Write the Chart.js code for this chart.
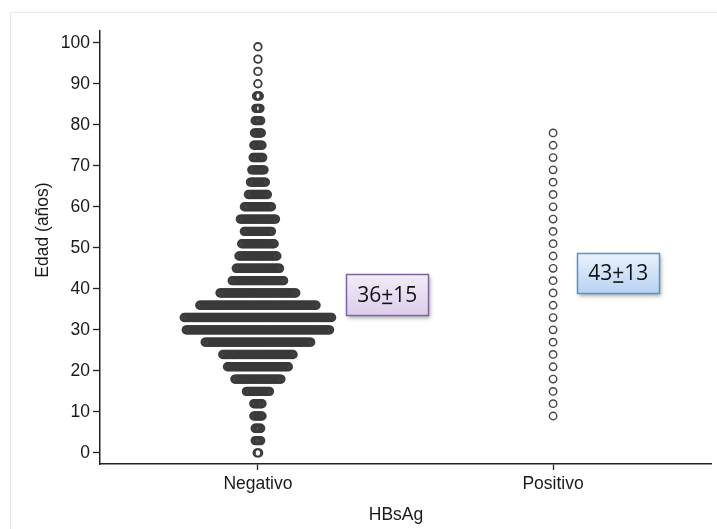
<!DOCTYPE html>
<html>
<head>
<meta charset="utf-8">
<script src="https://cdn.jsdelivr.net/npm/chart.js@4"></script>
<style>
  html, body { margin: 0; padding: 0; background: #fff; }
  #wrap { width: 717px; height: 529px; position: relative; }
</style>
</head>
<body>
<div id="wrap"><canvas id="dotChart" width="717" height="529"></canvas></div>
<script>
    // age bins (years) used by the dot plot
    const ageBins = [0, 3, 6, 9, 12, 15, 18, 21, 24, 27, 30, 33, 36, 39, 42, 45, 48, 51,
                     54, 57, 60, 63, 66, 69, 72, 75, 78, 81, 84, 87, 90, 93, 96, 99];
    // number of subjects per bin, HBsAg negative
    const negCounts = [2, 5, 5, 7, 7, 18, 35, 46, 53, 79, 107, 110, 87, 57, 39, 33, 29, 25,
                       21, 27, 21, 15, 12, 10, 8, 7, 6, 5, 4, 3, 1, 1, 1, 1];
    // number of subjects per bin, HBsAg positive
    const posCounts = [0, 0, 0, 1, 1, 1, 1, 1, 1, 1, 1, 1, 1, 1, 1, 1, 1, 1,
                       1, 1, 1, 1, 1, 1, 1, 1, 1, 0, 0, 0, 0, 0, 0, 0];
    const groups = ['Negativo', 'Positivo'];
    const yTicks = [0, 10, 20, 30, 40, 50, 60, 70, 80, 90, 100];
    const meanLabels = [['36', '+', '15'], ['43', '+', '13']];

    const dotStep = 0.00458; // horizontal spread between stacked dots

    function buildDots(counts, center) {
        const pts = [];
        counts.forEach((n, k) => {
            for (let i = 0; i < n; i++) {
                pts.push({ x: center + (i - (n - 1) / 2) * dotStep, y: ageBins[k] });
            }
        });
        return pts;
    }

    const notes = [
        { parts: meanLabels[0], x: 1.438, y: 38.6, w: 82, h: 41,
          top: '#f2edf8', bottom: '#dccdec', stroke: '#8064a2' },
        { parts: meanLabels[1], x: 2.221, y: 43.8, w: 82, h: 40,
          top: '#e9f2fc', bottom: '#b7d2f2', stroke: '#5d8fce' }
    ];

    const decorPlugin = {
        id: 'decor',
        beforeDraw(chart) {
            const c = chart.ctx;
            c.save();
            c.strokeStyle = '#e4ecf0';
            c.lineWidth = 1;
            c.beginPath();
            c.moveTo(10.5, 540);
            c.lineTo(10.5, 12.5);
            c.lineTo(720, 12.5);
            c.stroke();
            c.restore();
        },
        afterDraw(chart) {
            const c = chart.ctx;
            const xs = chart.scales.x, ys = chart.scales.y;
            c.save();
            // axis titles
            c.fillStyle = '#1a1a1a';
            c.font = '17.5px "Liberation Sans", Arial, sans-serif';
            c.textAlign = 'center';
            c.textBaseline = 'middle';
            c.fillText('HBsAg', 396, 515);
            c.translate(43, 230);
            c.rotate(-Math.PI / 2);
            c.fillText('Edad (a\u00f1os)', 0, 0);
            c.restore();

            // mean ± sd boxes
            notes.forEach(n => {
                const cx = xs.getPixelForValue(n.x);
                const cy = ys.getPixelForValue(n.y);
                const left = Math.round(cx - n.w / 2) + 0.5;
                const top = Math.round(cy - n.h / 2) + 0.5;
                c.save();
                const g = c.createLinearGradient(0, top, 0, top + n.h);
                g.addColorStop(0, n.top);
                g.addColorStop(1, n.bottom);
                c.shadowColor = 'rgba(0,0,0,0.35)';
                c.shadowBlur = 4;
                c.shadowOffsetX = 1.5;
                c.shadowOffsetY = 2;
                c.fillStyle = g;
                c.fillRect(left, top, n.w, n.h);
                c.shadowColor = 'transparent';
                c.strokeStyle = n.stroke;
                c.lineWidth = 1.5;
                c.strokeRect(left, top, n.w, n.h);

                c.font = '21px "Open Sans", sans-serif';
                c.fillStyle = '#111';
                c.textBaseline = 'middle';
                c.textAlign = 'left';
                const widths = n.parts.map(p => c.measureText(p).width);
                const total = widths.reduce((a, b) => a + b, 0);
                let tx = cx - total / 2;
                n.parts.forEach((p, i) => {
                    c.fillText(p, tx, cy + 1);
                    if (p === '+') {
                        c.fillRect(tx + 1, cy + 8, widths[i] - 2, 1.6);
                    }
                    tx += widths[i];
                });
                c.restore();
            });
        }
    };

    const dotStyle = {
        pointStyle: 'circle',
        pointRadius: 3.8,
        pointBorderWidth: 1.8,
        pointBackgroundColor: 'rgba(0,0,0,0)',
        pointBorderColor: '#3a3a3a',
        showLine: false
    };

    new Chart(document.getElementById('dotChart').getContext('2d'), {
        type: 'scatter',
        data: {
            datasets: [
                Object.assign({ label: groups[0], data: buildDots(negCounts, 1) }, dotStyle),
                Object.assign({ label: groups[1], data: buildDots(posCounts, 2) }, dotStyle, {
                    pointRadius: 3.7, pointBorderWidth: 1.4, pointBorderColor: '#444'
                })
            ]
        },
        options: {
            responsive: false,
            animation: false,
            events: [],
            layout: { padding: { left: 0, top: 31, right: 6, bottom: 0 } },
            plugins: { legend: { display: false }, tooltip: { enabled: false } },
            scales: {
                x: {
                    type: 'linear',
                    min: 0.465,
                    max: 2.535,
                    afterBuildTicks: s => { s.ticks = groups.map((g, i) => ({ value: i + 1 })); },
                    afterFit: s => { s.height = 65; },
                    ticks: {
                        callback: v => groups[v - 1],
                        color: '#1a1a1a',
                        padding: 4,
                        autoSkip: false,
                        maxRotation: 0,
                        font: { family: '"Liberation Sans", Arial, sans-serif', size: 17.5 }
                    },
                    grid: { drawOnChartArea: false, tickLength: 6, tickColor: '#222', tickWidth: 1.3 },
                    border: { color: '#222', width: 1.5 }
                },
                y: {
                    type: 'linear',
                    min: -2.7,
                    max: 102.85,
                    afterBuildTicks: s => { s.ticks = yTicks.map(v => ({ value: v })); },
                    afterFit: s => { s.width = 100; },
                    ticks: {
                        color: '#1a1a1a',
                        padding: 3,
                        font: { family: '"Liberation Sans", Arial, sans-serif', size: 17.5 }
                    },
                    grid: { drawOnChartArea: false, tickLength: 7, tickColor: '#222', tickWidth: 1.3 },
                    border: { color: '#222', width: 1.5 }
                }
            }
        },
        plugins: [decorPlugin]
    });
</script>
</body>
</html>
